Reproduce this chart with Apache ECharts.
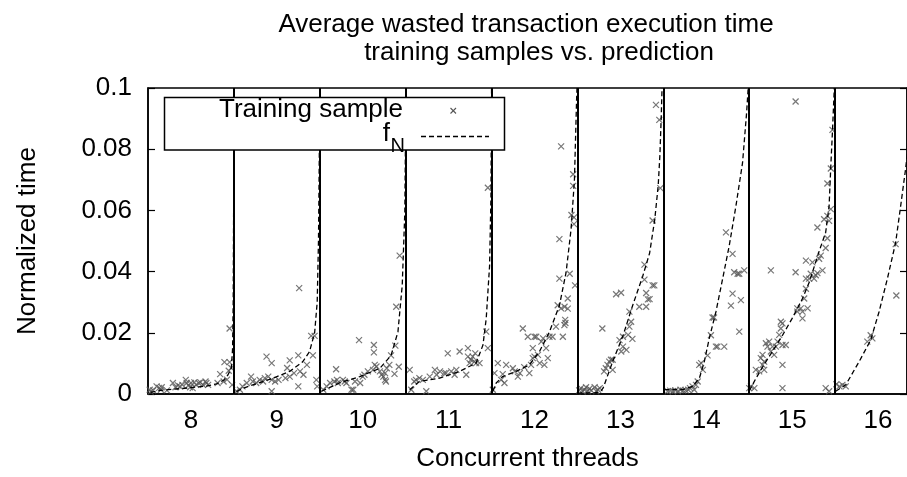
<!DOCTYPE html>
<html>
<head>
<meta charset="utf-8">
<script src="https://cdn.jsdelivr.net/npm/echarts@6/dist/echarts.min.js"></script>
<style>
  html, body { margin: 0; padding: 0; background: #fff; }
  #chart { width: 907px; height: 477px; }
</style>
</head>
<body>
<div id="chart"></div>
<script>
// Thread counts shown on the x axis, and the boundaries between their bins
const threadLabels = [8, 9, 10, 11, 12, 13, 14, 15, 16];
const binEdges = [8.5, 9.5, 10.5, 11.5, 12.5, 13.5, 14.5, 15.5];
const yTicks = [0, 0.02, 0.04, 0.06, 0.08, 0.1];

// Training samples per thread count: [position within bin, normalized time]
const samples8 = [[7.52,0.0014],[7.53,0.0008],[7.56,0.0012],[7.6,0.0025],[7.63,0.002],[7.65,0.0014],[7.66,0.0022],[7.72,0.0012],[7.79,0.0036],[7.82,0.0022],[7.85,0.0028],[7.87,0.0025],[7.9,0.003],[7.94,0.0046],[7.95,0.0036],[7.97,0.0028],[7.99,0.0022],[8.0,0.0036],[8.02,0.0019],[8.04,0.0038],[8.06,0.003],[8.09,0.0036],[8.11,0.0038],[8.14,0.003],[8.17,0.0041],[8.18,0.0036],[8.2,0.003],[8.31,0.0036],[8.34,0.0065],[8.38,0.0041],[8.39,0.0104],[8.42,0.0047],[8.44,0.0076],[8.45,0.0104],[8.45,0.0214],[8.47,0.0085],[8.48,0.003]];
const samples9 = [[8.53,0.0009],[8.57,0.0014],[8.6,0.0025],[8.65,0.0036],[8.7,0.0057],[8.72,0.0041],[8.76,0.0036],[8.8,0.0046],[8.84,0.0041],[8.86,0.0052],[8.9,0.0057],[8.94,0.0101],[8.94,0.0046],[8.94,0.0009],[8.88,0.0122],[8.98,0.0041],[9.02,0.0046],[9.1,0.0052],[9.15,0.0057],[9.15,0.011],[9.25,0.0126],[9.25,0.0025],[9.26,0.0346],[9.27,0.0074],[9.31,0.0063],[9.4,0.019],[9.44,0.019],[9.42,0.0126],[9.46,0.0046],[9.47,0.0025],[9.2,0.0068],[9.12,0.0085],[9.35,0.0095]];
const samples10 = [[9.54,0.0014],[9.58,0.0025],[9.62,0.0036],[9.67,0.0041],[9.69,0.0081],[9.7,0.0046],[9.71,0.0036],[9.77,0.0046],[9.79,0.0041],[9.81,0.0036],[9.87,0.0014],[9.89,0.0014],[9.91,0.0041],[9.957,0.0176],[9.97,0.0036],[10.0,0.0057],[10.02,0.0063],[10.06,0.0074],[10.12,0.0079],[10.13,0.016],[10.13,0.0136],[10.14,0.0095],[10.16,0.009],[10.2,0.0074],[10.22,0.0063],[10.24,0.0057],[10.26,0.0046],[10.27,0.0041],[10.26,0.0068],[10.28,0.0084],[10.31,0.0095],[10.33,0.0126],[10.37,0.0066],[10.38,0.0158],[10.39,0.0285],[10.42,0.0089],[10.43,0.0452]];
const samples11 = [[10.547,0.0079],[10.565,0.0014],[10.6,0.0041],[10.62,0.0046],[10.66,0.0052],[10.7,0.0046],[10.74,0.0009],[10.78,0.0057],[10.84,0.0079],[10.86,0.0063],[10.9,0.0074],[10.95,0.0068],[10.97,0.0068],[10.99,0.0133],[11.03,0.0074],[11.07,0.0063],[11.09,0.0079],[11.128,0.0139],[11.205,0.0063],[11.225,0.015],[11.225,0.0122],[11.244,0.0101],[11.26,0.0112],[11.28,0.0122],[11.3,0.0106],[11.32,0.0101],[11.31,0.0133],[11.36,0.0101],[11.438,0.0204],[11.457,0.015],[11.457,0.0674]];
const samples12 = [[11.515,0.0014],[11.534,0.0068],[11.573,0.0101],[11.612,0.0046],[11.63,0.0065],[11.65,0.0036],[11.67,0.0095],[11.748,0.0084],[11.77,0.0074],[11.806,0.0057],[11.83,0.0068],[11.864,0.0214],[11.88,0.0088],[11.922,0.0187],[11.94,0.0068],[11.96,0.0095],[11.98,0.015],[12.0,0.0187],[12.02,0.0187],[11.98,0.0117],[12.0,0.0122],[12.04,0.0128],[12.06,0.0101],[12.08,0.0171],[12.1,0.0182],[12.115,0.0095],[12.135,0.015],[12.155,0.0117],[12.174,0.0187],[12.21,0.0187],[12.25,0.022],[12.27,0.029],[12.29,0.0506],[12.29,0.0377],[12.31,0.0809],[12.31,0.028],[12.348,0.0225],[12.35,0.0285],[12.357,0.0242],[12.36,0.0232],[12.33,0.0187],[12.387,0.0279],[12.387,0.0312],[12.41,0.0393],[12.43,0.0585],[12.45,0.0718],[12.45,0.068],[12.46,0.0577],[12.46,0.0555],[12.472,0.0355]];
const samples13 = [[12.52,0.0012],[12.54,0.0019],[12.56,0.0009],[12.58,0.0014],[12.6,0.0022],[12.62,0.0009],[12.64,0.0017],[12.66,0.0012],[12.7,0.0022],[12.72,0.0009],[12.74,0.0014],[12.76,0.0019],[12.79,0.0214],[12.81,0.0074],[12.83,0.0084],[12.85,0.0095],[12.87,0.0106],[12.89,0.0112],[12.91,0.0079],[12.91,0.0112],[12.95,0.0326],[13.008,0.0331],[12.99,0.0176],[13.03,0.0155],[13.03,0.0187],[13.01,0.0139],[13.07,0.0144],[13.09,0.0193],[13.105,0.0269],[13.105,0.022],[13.125,0.0236],[13.14,0.018],[13.28,0.0423],[13.28,0.0374],[13.3,0.033],[13.32,0.0309],[13.22,0.0285],[13.3,0.0285],[13.375,0.0355],[13.395,0.0355],[13.375,0.0567],[13.414,0.0945],[13.453,0.0896],[13.465,0.0673],[13.34,0.031]];
const samples14 = [[13.55,0.0009],[13.58,0.0011],[13.61,0.0009],[13.64,0.0012],[13.67,0.0009],[13.7,0.0014],[13.73,0.0011],[13.76,0.0012],[13.79,0.0014],[13.81,0.0019],[13.84,0.0025],[13.86,0.0014],[13.88,0.003],[13.9,0.0041],[13.918,0.0095],[13.94,0.0101],[13.96,0.0079],[14.015,0.0126],[14.054,0.0192],[14.073,0.025],[14.09,0.025],[14.112,0.0155],[14.13,0.0155],[14.209,0.0155],[14.229,0.0528],[14.287,0.0289],[14.306,0.0458],[14.306,0.0328],[14.325,0.0398],[14.365,0.0393],[14.384,0.0204],[14.384,0.0393],[14.403,0.0307],[14.442,0.0404]];
const samples15 = [[14.5,0.0019],[14.52,0.0025],[14.56,0.0019],[14.577,0.0079],[14.616,0.0074],[14.635,0.0117],[14.655,0.0095],[14.655,0.0128],[14.674,0.0106],[14.674,0.0079],[14.694,0.0166],[14.713,0.0155],[14.732,0.0171],[14.752,0.0139],[14.752,0.0404],[14.771,0.0155],[14.79,0.0128],[14.81,0.0155],[14.83,0.0171],[14.849,0.0193],[14.868,0.0236],[14.887,0.0231],[14.887,0.0095],[14.887,0.0019],[14.868,0.0214],[14.887,0.016],[14.926,0.016],[15.04,0.0398],[15.06,0.028],[15.06,0.0269],[15.1,0.028],[15.12,0.0269],[15.12,0.0247],[15.14,0.0312],[15.16,0.0436],[15.16,0.0377],[15.16,0.0344],[15.18,0.028],[15.04,0.0956],[15.197,0.0377],[15.216,0.0393],[15.236,0.043],[15.255,0.0377],[15.275,0.0388],[15.294,0.0395],[15.294,0.0544],[15.314,0.0442],[15.333,0.0452],[15.353,0.0404],[15.372,0.0571],[15.41,0.0582],[15.43,0.0566],[15.39,0.0477],[15.41,0.0509],[15.45,0.0604],[15.41,0.0688],[15.45,0.0737],[15.469,0.0863],[15.39,0.0019],[15.43,0.0009]];
const samples16 = [[15.515,0.0032],[15.55,0.0025],[15.585,0.003],[15.624,0.0025],[15.875,0.0171],[15.914,0.0192],[15.934,0.0182],[16.205,0.049],[16.213,0.0322]];

// Predicted curve f_N for each thread count
const curve8 = [[7.53,0.0005],[7.64,0.0012],[7.9,0.0018],[8.18,0.0026],[8.3,0.0033],[8.38,0.0045],[8.43,0.0062],[8.47,0.0085],[8.485,0.0149],[8.492,0.03],[8.497,0.06],[8.5,0.1]];
const curve9 = [[8.53,0.0008],[8.6,0.0018],[8.72,0.003],[8.96,0.0052],[9.15,0.0074],[9.3,0.0105],[9.38,0.0138],[9.44,0.02],[9.47,0.03],[9.485,0.05],[9.495,0.08],[9.5,0.1]];
const curve10 = [[9.52,0.0009],[9.73,0.0036],[9.965,0.0057],[10.2,0.0084],[10.33,0.0126],[10.41,0.0203],[10.46,0.0355],[10.49,0.0593],[10.497,0.08],[10.5,0.1]];
const curve11 = [[10.547,0.0014],[10.66,0.0041],[10.895,0.0052],[11.128,0.0074],[11.32,0.0101],[11.4,0.016],[11.438,0.0247],[11.477,0.0419],[11.493,0.0647],[11.5,0.1]];
const curve12 = [[11.515,0.0009],[11.554,0.0036],[11.63,0.0057],[11.786,0.0074],[11.94,0.0095],[12.058,0.0139],[12.174,0.0203],[12.29,0.0289],[12.368,0.0398],[12.426,0.0539],[12.465,0.07],[12.49,0.0961],[12.495,0.1]];
const curve13 = [[12.5,0.0003],[12.7,0.0004],[12.77,0.0008],[12.8,0.002],[12.91,0.0106],[13.03,0.019],[13.14,0.0287],[13.26,0.0385],[13.34,0.046],[13.4,0.057],[13.44,0.068],[13.46,0.078],[13.475,0.09],[13.485,0.1]];
const curve14 = [[13.51,0.0014],[13.725,0.0014],[13.84,0.0025],[13.92,0.0052],[13.977,0.0106],[14.035,0.0182],[14.112,0.0268],[14.19,0.0376],[14.267,0.0484],[14.345,0.0614],[14.422,0.0755],[14.469,0.0917],[14.488,0.1]];
const curve15 = [[14.5,0.001],[14.58,0.0052],[14.67,0.0095],[14.77,0.0139],[14.89,0.0193],[15.0,0.0247],[15.12,0.0312],[15.2,0.0366],[15.31,0.0463],[15.39,0.0528],[15.43,0.0614],[15.45,0.0745],[15.47,0.0863],[15.488,0.0983],[15.49,0.1]];
const curve16 = [[15.507,0.0009],[15.624,0.003],[15.78,0.0106],[15.914,0.0176],[16.011,0.0268],[16.108,0.0376],[16.205,0.0495],[16.263,0.0614],[16.32,0.0734],[16.36,0.0831]];

const allSamples = [samples8, samples9, samples10, samples11, samples12, samples13, samples14, samples15, samples16];
const allCurves = [curve8, curve9, curve10, curve11, curve12, curve13, curve14, curve15, curve16];

const FONT = "'Liberation Sans', Arial, Helvetica, sans-serif";
const SAMPLE_COLOR = '#555555';
const CROSS = 'path://M0,0L10,10M10,0L0,10';

const series = [];

// Solid separators between thread-count bins
series.push({
  type: 'line',
  name: 'bins',
  data: [],
  silent: true,
  markLine: {
    silent: true,
    symbol: ['none', 'none'],
    label: { show: false },
    lineStyle: { type: 'solid', color: '#000', width: 2 },
    data: binEdges.map(v => ({ xAxis: v }))
  },
  z: 1
});

allSamples.forEach(pts => {
  series.push({
    type: 'scatter',
    name: 'Training sample',
    data: pts,
    symbol: CROSS,
    symbolSize: 6,
    itemStyle: { color: 'none', borderColor: SAMPLE_COLOR, borderWidth: 1.2 },
    z: 3
  });
});

allCurves.forEach(pts => {
  series.push({
    type: 'line',
    name: 'f_N',
    data: pts,
    showSymbol: false,
    symbol: 'none',
    smooth: false,
    clip: true,
    lineStyle: { color: '#000', width: 1.3, type: [5, 3] },
    z: 4
  });
});

const titleStyle = { fontFamily: FONT, fontSize: 26, fontWeight: 'normal', color: '#000' };

const chart = echarts.init(document.getElementById('chart'), null, { renderer: 'canvas' });
chart.setOption({
  animation: false,
  backgroundColor: '#fff',
  textStyle: { fontFamily: FONT },
  title: [
    { text: 'Average wasted transaction execution time', left: 521, top: 7, textAlign: 'center', textStyle: titleStyle },
    { text: 'training samples vs. prediction', left: 534, top: 35, textAlign: 'center', textStyle: titleStyle }
  ],
  grid: {
    left: 148, top: 88, width: 760, height: 308,
    show: true, borderColor: '#000', borderWidth: 1.5, backgroundColor: 'transparent'
  },
  xAxis: {
    type: 'value',
    min: 7.5,
    max: 16.337,
    name: 'Concurrent threads',
    nameLocation: 'middle',
    nameGap: 52,
    nameTextStyle: { fontFamily: FONT, fontSize: 26, color: '#000' },
    axisLine: { show: true, lineStyle: { color: '#000', width: 1.5 } },
    axisTick: { show: false },
    splitLine: { show: false },
    axisLabel: {
      customValues: threadLabels,
      fontFamily: FONT, fontSize: 26, color: '#000', margin: 14,
      formatter: v => String(v)
    }
  },
  yAxis: [{
    type: 'value',
    min: 0,
    max: 0.1,
    interval: 0.02,
    name: 'Normalized time',
    nameLocation: 'middle',
    nameGap: 107,
    nameRotate: 90,
    nameTextStyle: { fontFamily: FONT, fontSize: 26, color: '#000' },
    axisLine: { show: true, lineStyle: { color: '#000', width: 1.5 } },
    axisTick: { show: true, inside: true, length: 7, lineStyle: { color: '#000', width: 1.2 } },
    splitLine: { show: false },
    axisLabel: {
      customValues: yTicks,
      fontFamily: FONT, fontSize: 26, color: '#000', margin: 16,
      formatter: v => String(+v.toFixed(2))
    }
  }, {
    type: 'value',
    position: 'right',
    min: 0,
    max: 0.1,
    interval: 0.02,
    axisLine: { show: true, lineStyle: { color: '#000', width: 1.5 } },
    axisTick: { show: true, inside: true, length: 7, lineStyle: { color: '#000', width: 1.2 } },
    axisLabel: { show: false },
    splitLine: { show: false }
  }],
  series: series,
  graphic: [
    // Key box
    {
      type: 'rect', z: 100, silent: true,
      shape: { x: 164.5, y: 97.5, width: 340, height: 52.5 },
      style: { fill: '#fff', stroke: '#000', lineWidth: 1.5 }
    },
    {
      type: 'text', z: 101, silent: true, x: 403, y: 110,
      style: { text: 'Training sample', fill: '#000', font: '26px ' + FONT, textAlign: 'right', textVerticalAlign: 'middle' }
    },
    {
      type: 'line', z: 101, silent: true,
      shape: { x1: 450.5, y1: 108, x2: 456, y2: 113.5 },
      style: { stroke: SAMPLE_COLOR, lineWidth: 1.1 }
    },
    {
      type: 'line', z: 101, silent: true,
      shape: { x1: 456, y1: 108, x2: 450.5, y2: 113.5 },
      style: { stroke: SAMPLE_COLOR, lineWidth: 1.1 }
    },
    {
      type: 'text', z: 101, silent: true, x: 390, y: 134,
      style: { text: 'f', fill: '#000', font: '26px ' + FONT, textAlign: 'right', textVerticalAlign: 'middle' }
    },
    {
      type: 'text', z: 101, silent: true, x: 390.5, y: 146,
      style: { text: 'N', fill: '#000', font: '20px ' + FONT, textAlign: 'left', textVerticalAlign: 'middle' }
    },
    {
      type: 'line', z: 101, silent: true,
      shape: { x1: 421, y1: 136.5, x2: 489, y2: 136.5 },
      style: { stroke: '#000', lineWidth: 1.3, lineDash: [5, 3] }
    }
  ]
});
</script>
</body>
</html>
